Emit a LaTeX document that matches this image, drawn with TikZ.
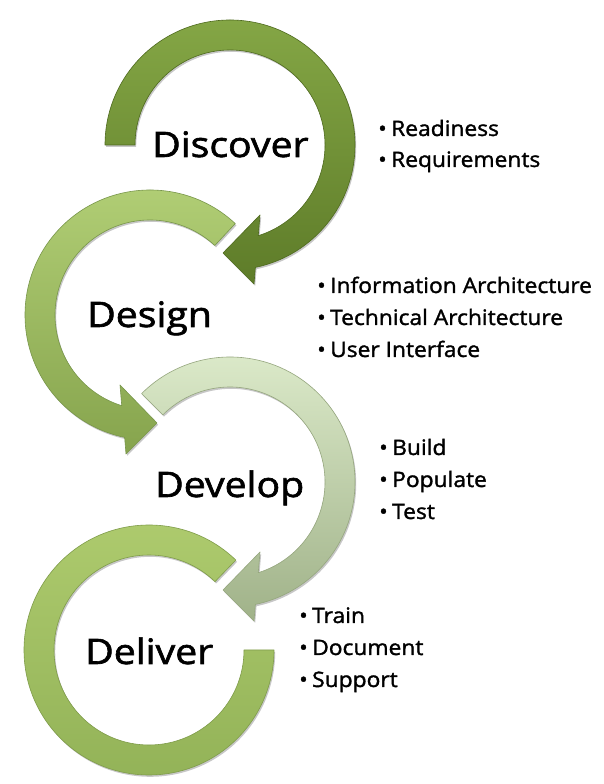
\documentclass[tikz,border=0pt]{standalone}
\usepackage{fontspec}
\setmainfont{Open Sans}[FakeStretch=1.07, FakeBold=1.5]
\newfontfamily\stagefont{Open Sans}[FakeStretch=1.12, FakeBold=1.8]
\usetikzlibrary{shadows}

\definecolor{discTop}{HTML}{84A645}
\definecolor{discBot}{HTML}{5E7C29}
\definecolor{discEdge}{HTML}{4E6A1E}
\definecolor{desTop}{HTML}{B2CF76}
\definecolor{desBot}{HTML}{86A44D}
\definecolor{desEdge}{HTML}{78964A}
\definecolor{devTop}{HTML}{DDEBCB}
\definecolor{devBot}{HTML}{A0B289}
\definecolor{devEdge}{HTML}{95A67E}
\definecolor{delTop}{HTML}{AECB6E}
\definecolor{delBot}{HTML}{92B257}
\definecolor{delEdge}{HTML}{7F9C4A}

\tikzset{
  ring/.style={line width=0.6pt, line join=round,
    drop shadow={shadow xshift=1.2pt, shadow yshift=-1.8pt, opacity=0.22, fill=black}},
  stage/.style={anchor=base west, inner sep=0pt, font=\stagefont\fontsize{35}{40}\selectfont},
  item/.style={anchor=base west, inner sep=0pt, font=\fontsize{21.3}{25}\selectfont},
}
\newcommand{\bul}[1]{\makebox[13pt][l]{\textbullet}#1}

\begin{document}
\begin{tikzpicture}[x=1pt,y=1pt]
  \useasboundingbox[fill=white] (0,0) rectangle (604,784);

  % Deliver: open ring, gap on the upper right
  \begin{scope}[shift={(149,134)}]
    \path[ring, draw=delEdge, top color=delTop, bottom color=delBot]
      (46:125) arc[start angle=46, end angle=360, radius=125]
      -- (0:95) arc[start angle=360, end angle=46, radius=95] -- cycle;
  \end{scope}

  % Develop: clockwise arrow, head at the bottom
  \begin{scope}[shift={(230,302)}]
    \path[ring, draw=devEdge, top color=devTop, bottom color=devBot]
      (135:125) arc[start angle=135, end angle=-78.3, radius=125]
      -- (24,-139) -- (-7,-108) -- (30,-70)
      -- (-72.7:95) arc[start angle=-72.7, end angle=135, radius=95] -- cycle;
  \end{scope}

  % Design: counter-clockwise arrow, head at the bottom
  \begin{scope}[shift={(150,469)}]
    \path[ring, draw=desEdge, top color=desTop, bottom color=desBot]
      (47:125) arc[start angle=47, end angle=258.3, radius=125]
      -- (-24,-139) -- (7,-108) -- (-30,-70)
      -- (252.7:95) arc[start angle=252.7, end angle=47, radius=95] -- cycle;
  \end{scope}

  % Discover: clockwise arrow, head at the bottom
  \begin{scope}[shift={(230,639)}]
    \path[ring, draw=discEdge, top color=discTop, bottom color=discBot]
      (180:125) arc[start angle=180, end angle=-78.3, radius=125]
      -- (24,-139) -- (-7,-108) -- (30,-70)
      -- (-72.7:95) arc[start angle=-72.7, end angle=180, radius=95] -- cycle;
  \end{scope}

  % stage names
  \node[stage] (discover) at (152,627) {Discover};
  \node[stage] (design)   at (87,457)  {Design};
  \node[stage] (develop)  at (155,287) {Develop};
  \node[stage] (deliver)  at (85,120)  {Deliver};

  % activities of each stage
  \node[item] (readiness) at (378,648) {\bul{Readiness}};
  \node[item] (requirements) at (378,617) {\bul{Requirements}};

  \node[item] (infoarch) at (317,491) {\bul{Information Architecture}};
  \node[item] (techarch) at (317,459) {\bul{Technical Architecture}};
  \node[item] (ui)       at (317,427) {\bul{User Interface}};

  \node[item] (build)    at (379,329) {\bul{Build}};
  \node[item] (populate) at (379,297) {\bul{Populate}};
  \node[item] (test)     at (379,265) {\bul{Test}};

  \node[item] (train)    at (299,161) {\bul{Train}};
  \node[item] (document) at (299,129) {\bul{Document}};
  \node[item] (support)  at (299,97)  {\bul{Support}};
\end{tikzpicture}
\end{document}
